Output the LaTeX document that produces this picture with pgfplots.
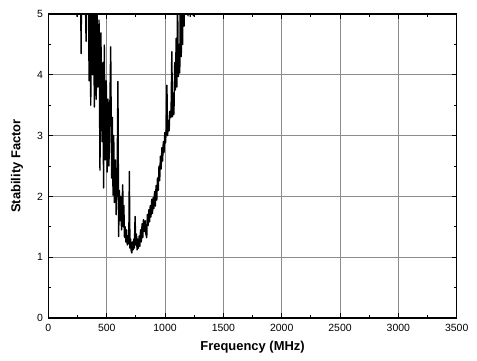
\documentclass[border=0pt]{standalone}
\usepackage{pgfplots}
\pgfplotsset{compat=1.18}
\usepackage{pgfplotstable}
\usepackage{fontspec}
\setmainfont{Liberation Sans}

% Stability factor versus frequency (values above 5 run off the top of the plot)
\pgfplotstableread{
x y
92 9.0
143 7.5
195 6.5
206 7.2
216 6.0
226 6.8
237 5.6
245 4.96
252 6.2
263 5.8
273 7.0
280 4.35
289 6.5
299 5.9
309 7.5
316 5.4
323 4.55
330 6.8
340 6.0
349 3.9
356 5.8
363 3.5
372 6.2
379 4.0
386 5.5
394 3.47
403 5.2
410 3.6
417 5.3
423 3.8
434 4.9
442 2.43
450 4.69
460 2.9
467 4.2
473 2.14
479 4.49
488 2.6
496 3.9
503 2.4
511 3.6
519 2.5
527 3.5
534 4.46
542 2.3
548 3.3
554 2.02
560 3.0
566 1.9
574 2.6
581 1.7
589 2.3
596 3.89
602 1.34
608 2.1
614 1.6
620 2.0
627 1.45
632 1.9
637 2.19
642 1.5
647 1.85
652 1.33
658 1.5
664 1.25
670 1.45
676 1.2
682 1.35
689 1.22
694 2.41
699 1.15
705 1.3
710 1.1
715 1.07
720 1.25
726 1.12
732 1.3
737 1.15
743 1.67
749 1.2
755 1.38
760 1.12
765 1.3
772 1.15
778 1.35
784 1.18
790 1.45
796 1.25
803 1.55
809 1.32
815 1.62
821 1.42
829 1.6
836 1.38
843 1.32
848 1.7
855 1.52
861 1.78
867 1.58
873 1.85
879 1.66
886 1.95
892 1.72
898 1.98
904 1.8
910 2.08
917 1.84
923 2.18
929 1.94
935 2.3
942 2.1
948 2.5
954 2.26
960 2.66
966 2.45
973 2.8
979 2.58
985 2.9
991 2.72
998 3.05
1004 2.88
1010 3.1
1016 3.83
1022 3.0
1029 3.25
1035 3.08
1041 3.4
1051 3.3
1058 4.38
1064 3.31
1070 3.7
1076 3.35
1083 4.2
1089 3.75
1095 4.6
1101 3.8
1107 5.3
1114 3.97
1120 4.5
1126 4.03
1132 5.6
1139 4.3
1145 5.8
1151 4.5
1157 6.2
1163 4.8
1170 6.5
1178 5.5
1186 7.0
1197 4.97
1206 6.5
1216 4.96
1227 7.5
1242 4.97
1258 8.0
1300 9.0
}\stabdata

\begin{document}
\begin{tikzpicture}
\path[use as bounding box] (-48.4bp,-43bp) rectangle (428.6bp,318bp);
\begin{axis}[
  at={(0,0)}, anchor=south west,
  scale only axis, width=408.3bp, height=304bp,
  xmin=0, xmax=3500, ymin=0, ymax=5,
  xtick distance=500, ytick distance=1,
  minor x tick num=1, minor y tick num=1,
  tick align=inside,
  major tick length=5bp, minor tick length=3bp,
  grid=major,
  major grid style={black!45, line width=1bp},
  axis line style={line width=1.3bp},
  every tick/.style={black, line width=0.8bp},
  /pgf/number format/assume math mode=true,
  /pgf/number format/1000 sep={},
  ticklabel style={font=\fontsize{10.5}{12}\selectfont},
  xticklabel style={yshift=-2.5bp},
  yticklabel style={xshift=-2bp},
  xlabel={Frequency (MHz)}, ylabel={Stability Factor},
  label style={font=\fontsize{13}{15}\selectfont\bfseries},
  xlabel style={at={(axis description cs:0.5,-0.0954)}, anchor=center},
  ylabel style={at={(axis description cs:-0.0769,0.5)}, anchor=center, rotate=0},
]
\addplot[black, line width=1.4bp, no marks, line join=round] table[x=x, y=y] {\stabdata};
\end{axis}
\end{tikzpicture}
\end{document}
